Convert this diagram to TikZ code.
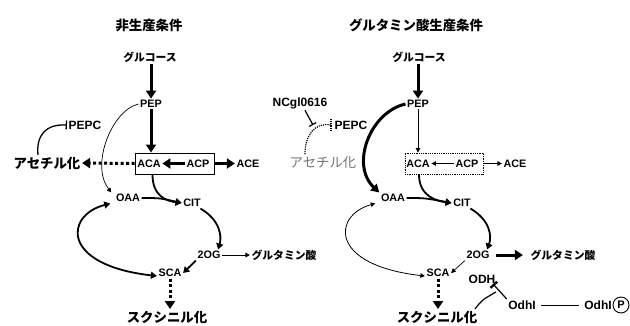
\documentclass[tikz,border=0pt]{standalone}
\usepackage{fontspec}
\setmainfont{Liberation Sans}
\newfontfamily\jpfont{Noto Sans CJK JP}
\usetikzlibrary{arrows.meta}
\begin{document}
\begin{tikzpicture}[x=1pt,y=-1pt,
  lbl/.style={font=\bfseries\fontsize{10.8}{12}\selectfont, inner sep=1.5pt},
  lblb/.style={font=\bfseries\fontsize{12}{14}\selectfont, inner sep=1.5pt},
  jps/.style={font=\jpfont\bfseries\fontsize{10.8}{13}\selectfont, inner sep=1.5pt},
  jpl/.style={font=\jpfont\bfseries\fontsize{13.4}{15}\selectfont, inner sep=1.5pt},
  bigarr/.style={line width=3pt, -{Triangle[length=8pt,width=10pt]}},
  dotarr/.style={line width=3pt, dash pattern=on 3pt off 2.5pt, -{Triangle[length=8pt,width=10pt]}},
  midarr/.style={line width=1.8pt, -{Triangle[length=6pt,width=7pt]}},
  midboth/.style={line width=1.8pt, {Triangle[length=6pt,width=7pt]}-{Triangle[length=6pt,width=7pt]}},
  thinarr/.style={line width=0.7pt, -{Triangle[length=4.5pt,width=4.5pt]}},
  thinboth/.style={line width=0.8pt, {Triangle[length=4.5pt,width=4.5pt]}-{Triangle[length=4.5pt,width=4.5pt]}},
  inh/.style={line width=1.3pt, -{Bar[width=9pt,line width=1.3pt]}},
]
\useasboundingbox (0,0) rectangle (630,325);

% ---------------- left panel ----------------
\node[jpl] (t1) at (149,25) {非生産条件};
\node[jps] (g1) at (150,57) {グルコース};
\node[lbl] (pep1) at (151,104) {PEP};
\node[draw, line width=0.9pt, minimum width=79pt, minimum height=21pt, inner sep=0pt] (box1) at (174.5,163.5) {};
\node[lbl] (aca1) at (149,163.5) {ACA};
\node[lbl] (acp1) at (198,163.5) {ACP};
\node[lbl] (ace1) at (248,163.5) {ACE};
\node[jpl] (ac1) at (47,163) {アセチル化};
\node[lblb] (pepc1) at (85,125) {PEPC};
\node[lbl] (oaa1) at (128,198) {OAA};
\node[lbl] (cit1) at (192,203) {CIT};
\node[lbl] (og1) at (209,255) {2OG};
\node[jps] (glu1) at (284,255) {グルタミン酸};
\node[lbl] (sca1) at (170,273) {SCA};
\node[jpl] (suc1) at (167,317) {スクシニル化};

\draw[bigarr] (g1.south -| pep1.north) -- (pep1.north);
\draw[bigarr] (pep1.south) -- (pep1.south |- box1.north);
\draw[bigarr] (acp1.west) -- (aca1.east);
\draw[bigarr] (box1.east) -- (ace1.west);
\draw[dotarr] (box1.west) -- (ac1.east);
\draw[inh] ([xshift=-9pt]ac1.north) .. controls (36,135) and (46,124) .. (pepc1.west);
\draw[thinarr] (pep1.west) .. controls (112,110) and (90,165) .. ([xshift=-3pt]oaa1.north west);
\draw[midarr] ([xshift=-22pt]box1.south) .. controls +(0,22) and +(-15,-2) .. (cit1.west);
\draw[midarr] (oaa1.east) .. controls (160,198) .. (cit1.west);
\draw[midarr] ([xshift=-2pt]cit1.south east) .. controls (220,220) and (222,236) .. ([xshift=-4pt]og1.north east);
\draw[midarr] (og1.south west) -- (sca1.east);
\draw[midboth] ([xshift=-4pt]oaa1.south west) .. controls (65,215) and (60,265) .. ([yshift=-3pt]sca1.west);
\draw[thinarr] (og1.east) -- (glu1.west);
\draw[dotarr] (sca1.south) -- (sca1.south |- suc1.north);

% ---------------- right panel ----------------
\node[jpl] (t2) at (416,25) {グルタミン酸生産条件};
\node[jps] (g2) at (419,57) {グルコース};
\node[lbl] (pep2) at (418,104) {PEP};
\node[draw, densely dotted, line width=0.8pt, minimum width=78pt, minimum height=21pt, inner sep=0pt] (box2) at (444,163.5) {};
\node[lbl] (aca2) at (418,163.5) {ACA};
\node[lbl] (acp2) at (467,163.5) {ACP};
\node[lbl] (ace2) at (515,163.5) {ACE};
\node[lblb] (ncgl) at (300,103) {NCgl0616};
\node[lblb] (pepc2) at (351,125) {PEPC};
\node[font=\jpfont\fontsize{13.4}{15}\selectfont, inner sep=1.5pt, text=black!55] (ac2) at (323,162) {アセチル化};
\node[lbl] (oaa2) at (393,198) {OAA};
\node[lbl] (cit2) at (462,203) {CIT};
\node[lbl] (og2) at (478,255) {2OG};
\node[jps] (glu2) at (563,255) {グルタミン酸};
\node[lbl] (sca2) at (438,273) {SCA};
\node[lblb] (odh) at (482,279) {ODH};
\node[lblb] (odhi1) at (522,305) {OdhI};
\node[lblb] (odhi2) at (598,305) {OdhI};
\node[draw, circle, line width=0.9pt, minimum size=16pt, inner sep=0pt, font=\bfseries\fontsize{11}{12}\selectfont] (p) at (621,305) {P};
\node[jpl] (suc2) at (437,317) {スクシニル化};
\coordinate (tb) at (313,125);

\draw[bigarr] (g2.south -| pep2.north) -- (pep2.north);
\draw[thinarr] (pep2.south) -- (pep2.south |- box2.north);
\draw[thinarr] (acp2.west) -- (aca2.east);
\draw[thinarr] (box2.east) -- (ace2.west);
\draw[line width=1.2pt, -{Bar[width=8pt,line width=1.2pt]}] ([xshift=5pt]ncgl.south) -- (tb);
\draw[line width=1.2pt, densely dotted] ([xshift=-18pt]ac2.north) .. controls (305,135) and (315,122) .. ([xshift=-2pt]pepc2.west);
\draw[line width=1.2pt, densely dotted] ([xshift=-2pt,yshift=-6pt]pepc2.west) -- ([xshift=-2pt,yshift=6pt]pepc2.west);
\draw[line width=3pt, -{Triangle[length=8pt,width=9pt]}] (pep2.west) .. controls (370,112) and (350,165) .. (oaa2.north west);
\draw[midarr] ([xshift=-25pt]box2.south) .. controls +(0,22) and +(-15,-2) .. (cit2.west);
\draw[midarr] (oaa2.east) .. controls (425,198) .. (cit2.west);
\draw[midarr] ([xshift=-2pt]cit2.south east) .. controls (490,220) and (492,236) .. ([xshift=-4pt]og2.north east);
\draw[thinarr] (og2.south west) -- (sca2.east);
\draw[thinboth] ([xshift=-4pt]oaa2.south west) .. controls (333,215) and (328,265) .. ([yshift=-3pt]sca2.west);
\draw[bigarr, shorten <=5pt, shorten >=6pt] (og2.east) -- (glu2.west);
\draw[dotarr] (sca2.south) -- (sca2.south |- suc2.north);
\draw[line width=1.2pt, -{Bar[width=9pt,line width=1.2pt] Bar[width=9pt,line width=1.2pt]}] (odhi1.north west) -- ([xshift=11pt,yshift=1pt]odh.south);
\draw[line width=1.2pt] ([xshift=-4pt]suc2.north east) .. controls (482,300) .. (496,292);
\draw[line width=0.8pt, shorten <=4pt, shorten >=4pt] (odhi1.east) -- (odhi2.west);
\end{tikzpicture}
\end{document}
